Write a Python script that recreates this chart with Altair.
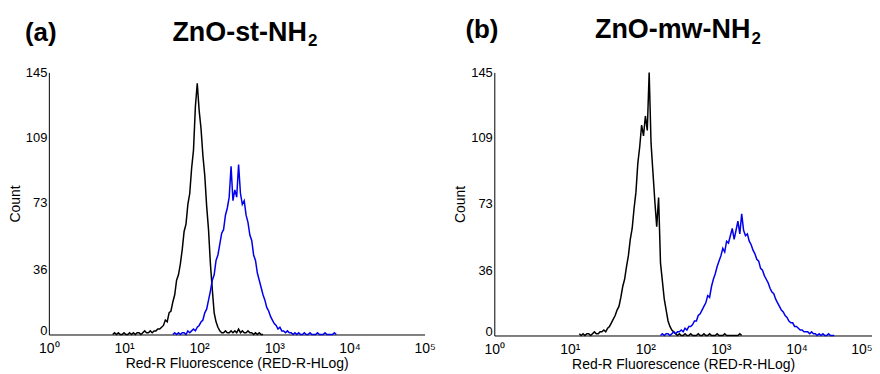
import altair as alt
import pandas as pd

# channel spacing on the log10 axis
STEP = 0.025

# ---- panel (a) ZnO-st-NH2 ----
a_black_start = 0.85
a_black = [0, 1, 0, 1, 0, 0, 1, 0, 0, 1, 0, 1, 0, 1, 1, 0, 1, 2, 1, 1,
           2, 1, 2, 2, 3, 3, 4, 5, 8, 7, 12, 13, 18, 22, 30, 33, 39, 47, 57, 61,
           72, 78, 92, 102, 126, 139, 124, 114, 99, 88, 71, 58, 39, 25, 12, 7, 4, 2, 1, 1,
           2, 1, 1, 2, 1, 2, 1, 3, 1, 2, 1, 1, 2, 1, 1, 0, 1, 0, 1, 0, 0]
a_blue_start = 1.65
a_blue = [0, 1, 0, 1, 0, 1, 1, 0, 2, 1, 2, 3, 2, 4, 5, 7, 8, 12, 14, 19,
          24, 30, 33, 41, 44, 50, 56, 58, 66, 70, 76, 93, 74, 80, 76, 94, 78, 72, 74, 66,
          62, 55, 52, 44, 41, 34, 30, 26, 22, 19, 15, 13, 10, 8, 6, 5, 3, 4, 2, 2,
          1, 2, 1, 1, 0, 1, 0, 1, 0, 0, 1, 0, 0, 1, 0, 0, 0, 1, 0, 0,
          0, 1, 0, 0, 0, 0, 1, 0]

# ---- panel (b) ZnO-mw-NH2 ----
b_black_start = 1.125
b_black = [1, 0, 1, 0, 1, 1, 0, 1, 2, 1, 1, 2, 2, 3, 2, 4, 5, 7, 9, 11,
           14, 16, 21, 27, 31, 38, 44, 53, 59, 70, 79, 95, 104, 116, 110, 121, 113, 145, 106, 90,
           74, 60, 76, 40, 30, 20, 14, 8, 5, 3, 2, 1, 0, 1, 0, 0, 1, 0, 0, 1,
           0, 0, 0, 1, 0, 0, 1, 0, 0, 1, 0, 0, 0, 1, 0, 0, 0, 1, 0, 0,
           0, 0, 0, 0, 0, 1, 0]
b_blue_start = 2.2
b_blue = [0, 1, 0, 1, 1, 0, 1, 2, 1, 2, 2, 3, 2, 4, 3, 5, 5, 6, 8, 8,
          11, 12, 14, 16, 18, 22, 21, 27, 31, 34, 38, 41, 44, 48, 46, 52, 51, 55, 59, 53,
          58, 63, 56, 67, 58, 55, 56, 52, 50, 47, 45, 42, 41, 37, 36, 33, 31, 29, 26, 24,
          23, 20, 18, 16, 14, 13, 11, 10, 8, 7, 7, 5, 5, 4, 3, 3, 2, 2, 2, 1,
          2, 1, 1, 0, 1, 0, 1, 0, 0, 1, 0, 0, 0]

y_ticks = [0, 36, 73, 109, 145]
x_ticks = [1, 10, 100, 1000, 10000, 100000]
x_title = "Red-R Fluorescence (RED-R-HLog)"
FONT = "Liberation Sans"
SUP = "['\u2070','\u00b9','\u00b2','\u00b3','\u2074','\u2075']"


def frame(start, counts, series):
    return pd.DataFrame({
        "x": [10 ** (start + i * STEP) for i in range(len(counts))],
        "count": counts,
        "series": series,
    })


def text_layer(txt, size, x, y):
    return alt.Chart(pd.DataFrame({"t": [txt]})).mark_text(
        font=FONT, fontSize=size, fontWeight="bold", align="left",
        baseline="alphabetic", color="black"
    ).encode(text="t:N", x=alt.value(x), y=alt.value(y))


def panel(black_start, black, blue_start, blue, tag, name, width, height,
          tag_x, name_x, sub_x, title_y, last_right):
    df = pd.concat([frame(black_start, black, "control"),
                    frame(blue_start, blue, "sample")], ignore_index=True)
    label_align = ({"condition": {"test": "datum.value >= 100000", "value": "right"},
                    "value": "center"} if last_right else "center")
    lines = alt.Chart(df).mark_line(strokeWidth=1.5).encode(
        x=alt.X("x:Q",
                scale=alt.Scale(type="log", domain=[1, 100000], nice=False),
                axis=alt.Axis(values=x_ticks,
                              labelExpr="'10' + " + SUP + "[round(log(datum.value)/LN10)]",
                              title=x_title, grid=False, ticks=False,
                              labelFontSize=14, titleFontSize=14,
                              labelPadding=7, titlePadding=1,
                              labelAlign=label_align,
                              labelFlush=False)),
        y=alt.Y("count:Q",
                scale=alt.Scale(domain=[0, 145], nice=False),
                axis=alt.Axis(values=y_ticks, title="Count", grid=False,
                              ticks=False, labelFontSize=13, titleFontSize=14,
                              labelPadding=2, titlePadding=3,
                              labelOffset={"condition": {"test": "datum.value == 0", "value": -4},
                                           "value": 0})),
        color=alt.Color("series:N",
                        scale=alt.Scale(domain=["control", "sample"],
                                        range=["#000000", "#0000ee"]),
                        legend=None),
    )
    return alt.layer(
        lines,
        text_layer(tag, 26, tag_x, title_y),
        text_layer(name, 27, name_x, title_y),
        text_layer("2", 17, sub_x, title_y + 6),
    ).properties(width=width, height=height)


pa = panel(a_black_start, a_black, a_blue_start, a_blue, "(a)", "ZnO-st-NH",
           377, 263, -24, 124, 260, -32, False)
pb = panel(b_black_start, b_black, b_blue_start, b_blue, "(b)", "ZnO-mw-NH",
           379, 264, -29, 101, 258, -35, True)

chart = alt.hconcat(pa, pb, spacing=18).properties(
    padding={"left": 0, "top": 7, "right": 0, "bottom": 0}
).configure_view(stroke=None).configure_axis(
    labelFont=FONT, titleFont=FONT, labelColor="black", titleColor="black",
    domainColor="black", domainWidth=1, titleFontWeight="normal"
)

chart.save("out.html", embed_options={"renderer": "svg", "actions": False})
